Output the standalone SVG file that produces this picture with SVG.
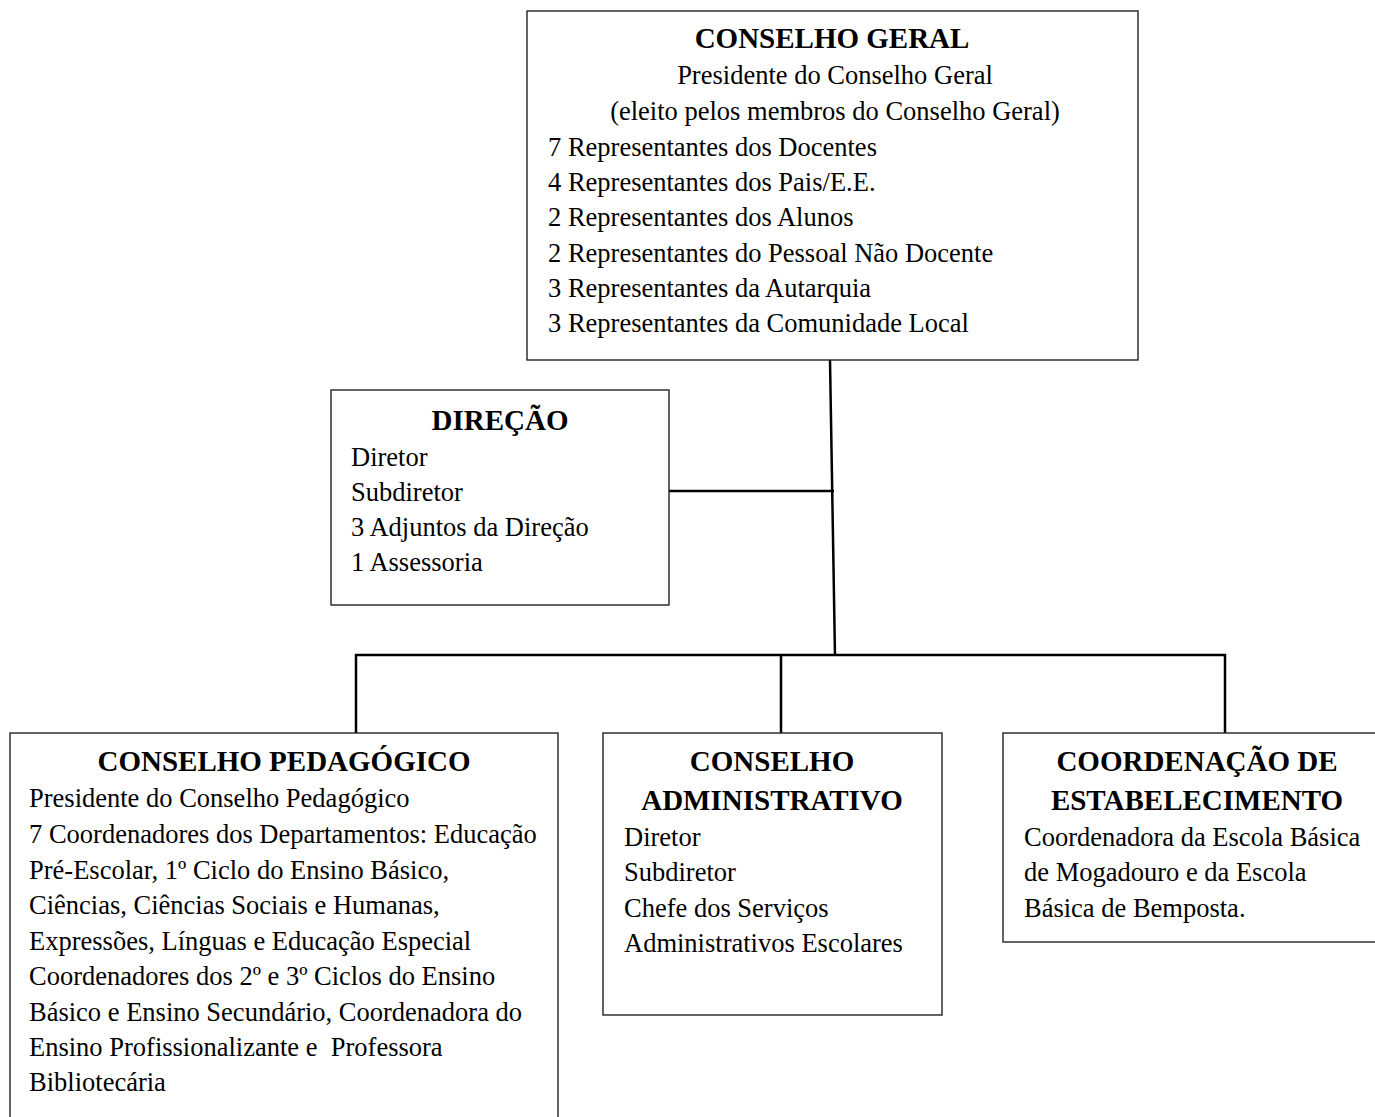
<svg xmlns="http://www.w3.org/2000/svg" width="1375" height="1117" viewBox="0 0 1375 1117">
<style>
.box{fill:#fff;stroke:#222;stroke-width:1.4}
.t{font-family:"Liberation Serif","Times New Roman",serif;font-weight:bold;font-size:29px;fill:#000;text-anchor:middle}
.b{font-family:"Liberation Serif","Times New Roman",serif;font-size:26.5px;fill:#000}
.c{text-anchor:middle}
.ln{stroke:#000;stroke-width:2.5;fill:none}
</style>
<rect width="1375" height="1117" fill="#fff"/>
<g id="connectors">
<line class="ln" x1="830" y1="360" x2="835" y2="656"/>
<line class="ln" x1="669" y1="491" x2="834" y2="491"/>
<line class="ln" x1="355" y1="655" x2="1226" y2="655"/>
<line class="ln" x1="356" y1="654" x2="356" y2="733"/>
<line class="ln" x1="781" y1="654" x2="781" y2="733"/>
<line class="ln" x1="1225" y1="654" x2="1225" y2="733"/>
</g>
<g id="conselho-geral">
<rect class="box" x="527" y="11" width="611" height="349"/>
<text class="t" x="832" y="48">CONSELHO GERAL</text>
<text class="b c" x="835" y="84">Presidente do Conselho Geral</text>
<text class="b c" x="835" y="120">(eleito pelos membros do Conselho Geral)</text>
<text class="b" x="548" y="156">7 Representantes dos Docentes</text>
<text class="b" x="548" y="191">4 Representantes dos Pais/E.E.</text>
<text class="b" x="548" y="226">2 Representantes dos Alunos</text>
<text class="b" x="548" y="262">2 Representantes do Pessoal Não Docente</text>
<text class="b" x="548" y="297">3 Representantes da Autarquia</text>
<text class="b" x="548" y="332">3 Representantes da Comunidade Local</text>
</g>
<g id="direcao">
<rect class="box" x="331" y="390" width="338" height="215"/>
<text class="t" x="500" y="430">DIREÇÃO</text>
<text class="b" x="351" y="466">Diretor</text>
<text class="b" x="351" y="501">Subdiretor</text>
<text class="b" x="351" y="536">3 Adjuntos da Direção</text>
<text class="b" x="351" y="571">1 Assessoria</text>
</g>
<g id="conselho-pedagogico">
<rect class="box" x="10" y="733" width="548" height="400"/>
<text class="t" x="284" y="771">CONSELHO PEDAGÓGICO</text>
<text class="b" x="29" y="807">Presidente do Conselho Pedagógico</text>
<text class="b" x="29" y="843">7 Coordenadores dos Departamentos: Educação</text>
<text class="b" x="29" y="879">Pré-Escolar, 1º Ciclo do Ensino Básico,</text>
<text class="b" x="29" y="914">Ciências, Ciências Sociais e Humanas,</text>
<text class="b" x="29" y="950">Expressões, Línguas e Educação Especial</text>
<text class="b" x="29" y="985">Coordenadores dos 2º e 3º Ciclos do Ensino</text>
<text class="b" x="29" y="1021">Básico e Ensino Secundário, Coordenadora do</text>
<text class="b" x="29" y="1056" xml:space="preserve">Ensino Profissionalizante e  Professora</text>
<text class="b" x="29" y="1091">Bibliotecária</text>
</g>
<g id="conselho-administrativo">
<rect class="box" x="603" y="733" width="339" height="282"/>
<text class="t" x="772" y="771">CONSELHO</text>
<text class="t" x="772" y="810">ADMINISTRATIVO</text>
<text class="b" x="624" y="846">Diretor</text>
<text class="b" x="624" y="881">Subdiretor</text>
<text class="b" x="624" y="917">Chefe dos Serviços</text>
<text class="b" x="624" y="952">Administrativos Escolares</text>
</g>
<g id="coordenacao-estabelecimento">
<rect class="box" x="1003" y="733" width="400" height="209"/>
<text class="t" x="1197" y="771">COORDENAÇÃO DE</text>
<text class="t" x="1197" y="810">ESTABELECIMENTO</text>
<text class="b" x="1024" y="846">Coordenadora da Escola Básica</text>
<text class="b" x="1024" y="881">de Mogadouro e da Escola</text>
<text class="b" x="1024" y="917">Básica de Bemposta.</text>
</g>
</svg>
